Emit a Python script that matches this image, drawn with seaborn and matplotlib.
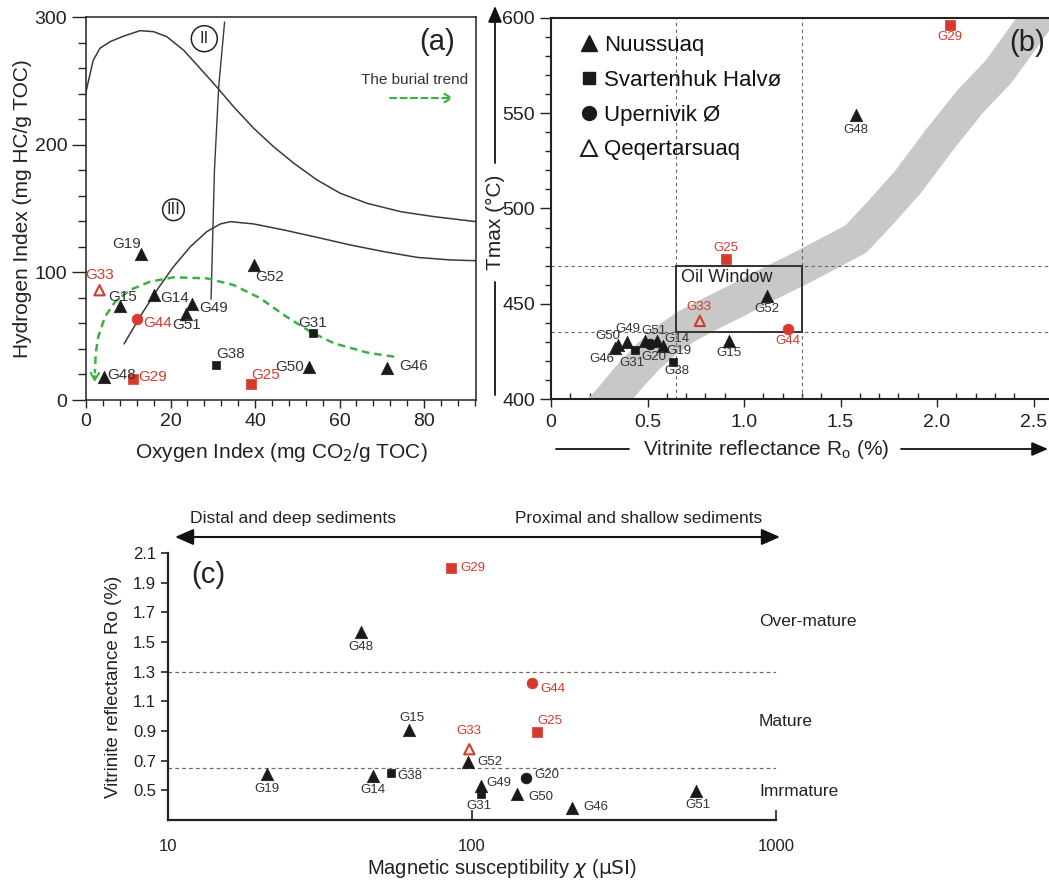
import numpy as np
import pandas as pd
import matplotlib
matplotlib.use("Agg")
import matplotlib.pyplot as plt
from matplotlib.lines import Line2D
from matplotlib.patches import Rectangle, FancyArrowPatch
from matplotlib.ticker import MultipleLocator, NullLocator, FixedLocator, FixedFormatter
import seaborn as sns

sns.set_style("ticks")
plt.rcParams["font.family"] = ["Liberation Sans", "DejaVu Sans"]

# ---------------- data ----------------
nuussuaq = ["G19", "G15", "G14", "G51", "G49", "G52", "G50", "G46", "G48"]
svartenhuk = ["G31", "G38", "G25", "G29"]
upernivik = ["G44", "G20"]
qeqertarsuaq = ["G33"]
red_samples = ["G33", "G44", "G25", "G29"]

# panel (a): Oxygen index vs Hydrogen index
a_samples = ["G19", "G33", "G15", "G14", "G44", "G51", "G49", "G52", "G31",
             "G38", "G50", "G46", "G25", "G29", "G48"]
a_oi = [13.1, 3.2, 8.1, 16.0, 12.0, 23.6, 25.1, 39.7, 53.8, 30.7, 52.8, 71.3, 39.0, 11.1, 4.3]
a_hi = [114, 86, 73.6, 82, 63.7, 67, 75, 106, 52.7, 27.7, 25.6, 25, 12.5, 16.7, 17.8]

# kerogen type boundaries
type2_oi = [0, 1.7, 3.3, 5.7, 8.9, 12.8, 16, 19.1, 23.1, 27, 31, 34.9, 39.7, 44.4, 49.2,
            54.7, 60.2, 66.6, 74.5, 82.4, 92.3]
type2_hi = [241.5, 266, 275.5, 280.7, 285, 289.3, 288.5, 284.6, 274, 259.8, 245, 229.8,
            212.8, 198.4, 185.4, 172.3, 161.9, 154, 147.5, 143.6, 139.7]
type3_oi = [9, 12.8, 16.8, 20.7, 24.7, 28.6, 31.8, 34.2, 39.7, 46.8, 54.7, 62.6, 70.5,
            78.4, 86.3, 92.3]
type3_hi = [43.9, 65.3, 86.2, 104.4, 120.1, 131.9, 137.9, 139.7, 137.9, 133.2, 127.4,
            121.4, 116.2, 111.7, 109.7, 109.1]
divider_oi = [29.6, 30.4, 31.4, 32.8]
divider_hi = [79, 180, 245, 296]
burial_oi = [72.9, 66.6, 58.7, 53.1, 46.8, 41.3, 34.9, 28.6, 20.7, 15.2, 10.4, 6.9, 4.5,
             2.9, 2.3, 2.1]
burial_hi = [33.9, 37.1, 44.4, 53.5, 66.6, 79.6, 90.1, 95.3, 96.1, 92.7, 86.2, 77, 65.3,
             49.6, 36.6, 20.9]

# panel (b): Ro vs Tmax
b_samples = ["G29", "G48", "G25", "G52", "G33", "G44", "G15", "G46", "G50", "G49",
             "G31", "G51", "G20", "G14", "G19", "G38"]
b_ro = [2.065, 1.582, 0.905, 1.119, 0.771, 1.226, 0.92, 0.33, 0.345, 0.396, 0.433,
        0.485, 0.513, 0.55, 0.578, 0.634]
b_tmax = [596.5, 549.2, 473.4, 454, 441, 437, 430.6, 427, 428.5, 429.8, 425.7, 430.6,
          428.9, 430.6, 428, 419.6]
band_ro = [0.22, 0.31, 0.40, 0.5, 0.6, 0.7, 0.8, 0.95, 1.1, 1.3, 1.45, 1.58, 1.7, 1.85,
           2.02, 2.17, 2.32, 2.52, 2.62]
band_tmax = [390, 400, 411, 422, 431, 438, 443.5, 451, 459, 469, 477, 484, 497, 514,
             537, 556, 572, 600, 614]
oil_ro = [0.65, 1.3]
oil_tmax = [435, 470]

# panel (c): magnetic susceptibility vs Ro
c_samples = ["G29", "G48", "G44", "G15", "G25", "G33", "G52", "G19", "G14", "G38",
             "G20", "G49", "G31", "G50", "G46", "G51"]
c_chi = [85.6, 43.2, 158, 62, 164, 98, 97, 21.2, 47.2, 54.2, 150.6, 106.8, 106.8, 141,
         214, 545]
c_ro = [2.0, 1.567, 1.222, 0.91, 0.892, 0.777, 0.688, 0.61, 0.598, 0.614, 0.581, 0.532,
        0.472, 0.472, 0.382, 0.498]
maturity_levels = [1.3, 0.65]

# ---------------- styling ----------------
RED = "#d63a2d"
BLK = "#1a1a1a"
LAB = "#333333"
GREEN = "#3cb043"

region_of = {}
for s in nuussuaq:
    region_of[s] = "Nuussuaq"
for s in svartenhuk:
    region_of[s] = "Svartenhuk Halvø"
for s in upernivik:
    region_of[s] = "Upernivik Ø"
for s in qeqertarsuaq:
    region_of[s] = "Qeqertarsuaq"

marker_of = {"Nuussuaq": "^", "Svartenhuk Halvø": "s", "Upernivik Ø": "o", "Qeqertarsuaq": "^"}
size_of = {"Nuussuaq": 80, "Svartenhuk Halvø": 30, "Upernivik Ø": 60, "Qeqertarsuaq": 55}


def draw_points(ax, samples, xs, ys, offsets, fs):
    df = pd.DataFrame({"sample": samples, "x": xs, "y": ys})
    df["region"] = df["sample"].map(region_of)
    df["red"] = df["sample"].isin(red_samples)
    for (reg, red), sub in df.groupby(["region", "red"]):
        col = RED if red else BLK
        sz = size_of[reg]
        if reg == "Svartenhuk Halvø" and red:
            sz = 42
        if reg == "Qeqertarsuaq":
            sns.scatterplot(data=sub, x="x", y="y", marker="^", s=sz, facecolor="none",
                            edgecolor=col, linewidth=1.5, ax=ax, legend=False, zorder=6)
        else:
            sns.scatterplot(data=sub, x="x", y="y", marker=marker_of[reg], s=sz,
                            color=col, edgecolor=col, linewidth=0.5, ax=ax,
                            legend=False, zorder=6)
    for s, x, y in zip(samples, xs, ys):
        dx, dy, ha = offsets[s]
        ax.annotate(s, (x, y), xytext=(dx, dy), textcoords="offset points",
                    ha=ha, va="center", fontsize=fs,
                    color=RED if s in red_samples else LAB, zorder=7)


W, H = 1049, 888
fig = plt.figure(figsize=(W / 100, H / 100), dpi=100)

# ====================== panel (a) ======================
ax_a = fig.add_axes([86 / W, 1 - 400 / H, 390 / W, 383 / H])
sns.lineplot(x=type2_oi, y=type2_hi, sort=False, estimator=None, color="#3a3a3a", lw=1.1, ax=ax_a)
sns.lineplot(x=type3_oi, y=type3_hi, sort=False, estimator=None, color="#3a3a3a", lw=1.1, ax=ax_a)
sns.lineplot(x=divider_oi, y=divider_hi, sort=False, estimator=None, color="#3a3a3a", lw=1.0, ax=ax_a)
sns.lineplot(x=burial_oi, y=burial_hi, sort=False, estimator=None, color=GREEN, lw=1.8,
             ls=(0, (3, 2)), ax=ax_a)
ax_a.annotate("", xy=(burial_oi[-1] - 0.05, 12), xytext=(burial_oi[-1], burial_hi[-1]),
              arrowprops=dict(arrowstyle="->,head_length=0.5,head_width=0.3", color=GREEN, lw=1.5))

a_off = {
    "G19": (0, 7.2, "right"), "G33": (0, 10.8, "center"), "G15": (2, 6.7, "center"),
    "G14": (4.8, -2.2, "left"), "G44": (4.8, -3.4, "left"), "G51": (0.5, -7.9, "center"),
    "G49": (5, -2.4, "left"), "G52": (1.2, -8.6, "left"), "G31": (-0.7, 6.7, "center"),
    "G38": (0.4, 7.4, "left"), "G50": (-3.4, 0.5, "right"), "G46": (8.4, 1.4, "left"),
    "G25": (0, 6.5, "left"), "G29": (4.1, 1.0, "left"), "G48": (1.9, 1.7, "left"),
}
draw_points(ax_a, a_samples, a_oi, a_hi, a_off, 11)

ax_a.text(28, 283, "II", ha="center", va="center", fontsize=12, color="#222",
          bbox=dict(boxstyle="circle,pad=0.33", fc="white", ec="#222", lw=1.1))
ax_a.text(20.7, 149, "III", ha="center", va="center", fontsize=12, color="#222",
          bbox=dict(boxstyle="circle,pad=0.2", fc="white", ec="#222", lw=1.1))
ax_a.text(0.9, 0.935, "(a)", transform=ax_a.transAxes, ha="center", va="center", fontsize=21, color="#222")
ax_a.text(77.7, 250.6, "The burial trend", ha="center", va="center", fontsize=11, color="#333")
ax_a.annotate("", xy=(87.6, 236.5), xytext=(71.3, 236.5),
              arrowprops=dict(arrowstyle="->,head_length=0.5,head_width=0.3", color=GREEN,
                              lw=1.5, ls=(0, (3, 2))))

ax_a.set_xlim(0, 92.3)
ax_a.set_ylim(0, 300)
ax_a.set_xticks([0, 20, 40, 60, 80])
ax_a.set_yticks([0, 100, 200, 300])
ax_a.xaxis.set_minor_locator(MultipleLocator(4))
ax_a.yaxis.set_minor_locator(MultipleLocator(20))
ax_a.tick_params(axis="x", which="major", direction="out", length=6, width=1, labelsize=14, colors="#222")
ax_a.tick_params(axis="x", which="minor", direction="out", length=4, width=1)
ax_a.tick_params(axis="y", which="major", direction="out", length=10, width=1, labelsize=14, colors="#222")
ax_a.tick_params(axis="y", which="minor", direction="out", length=5.5, width=1)
for sp in ax_a.spines.values():
    sp.set_linewidth(1.1)
    sp.set_color("#222")
ax_a.set_xlabel("Oxygen Index (mg CO$_2$/g TOC)", fontsize=15, color="#222", labelpad=8)
ax_a.set_ylabel("Hydrogen Index (mg HC/g TOC)", fontsize=15, color="#222", labelpad=2)

# ====================== panel (b) ======================
ax_b = fig.add_axes([551 / W, 1 - 399 / H, 498 / W, 381 / H])
sns.lineplot(x=band_ro, y=band_tmax, sort=False, estimator=None, color="#c8c8c8", lw=24.5,
             solid_capstyle="butt", solid_joinstyle="round", ax=ax_b, zorder=1)
ax_b.text(0.956, 0.934, "(b)", transform=ax_b.transAxes, ha="center", va="center",
          fontsize=21, color="#222", zorder=5)
for r in oil_ro:
    ax_b.axvline(r, color="#666", lw=0.8, ls=(0, (3, 3)), zorder=2)
for t in oil_tmax:
    ax_b.axhline(t, color="#666", lw=0.8, ls=(0, (3, 3)), zorder=2)
ax_b.add_patch(Rectangle((oil_ro[0], oil_tmax[0]), oil_ro[1] - oil_ro[0], oil_tmax[1] - oil_tmax[0],
                         fill=False, ec="#333", lw=1.4, zorder=3))
ax_b.text(oil_ro[0] + 0.025, oil_tmax[1] - 1.5, "Oil Window", ha="left", va="top", fontsize=13,
          color="#222", zorder=4)

b_off = {
    "G29": (0, -9.2, "center"), "G48": (0, -11.2, "center"), "G25": (0, 8.2, "center"),
    "G52": (0, -9.2, "center"), "G33": (-1, 10.2, "center"), "G44": (0, -8.7, "center"),
    "G15": (0, -8.7, "center"), "G50": (2, 6.5, "right"), "G46": (0, -8, "right"),
    "G49": (0.5, 9.7, "center"), "G31": (-2, -9.2, "center"), "G51": (6.5, 6.7, "center"),
    "G20": (2.7, -9.4, "center"), "G14": (5, 1.2, "left"), "G19": (2.5, -3.7, "left"),
    "G38": (2.7, -7, "center"),
}
draw_points(ax_b, b_samples, b_ro, b_tmax, b_off, 9.5)

handles = [
    Line2D([], [], ls="none", marker="^", ms=11, color=BLK),
    Line2D([], [], ls="none", marker="s", ms=9, color=BLK),
    Line2D([], [], ls="none", marker="o", ms=10, color=BLK),
    Line2D([], [], ls="none", marker="^", ms=11, mfc="none", mec=BLK, mew=1.4),
]
labels = ["Nuussuaq", "Svartenhuk Halvø", "Upernivik Ø", "Qeqertarsuaq"]
ax_b.legend(handles, labels, loc="upper left", bbox_to_anchor=(0.022, 0.99), frameon=False,
            fontsize=16, handletextpad=0.1, labelspacing=0.62, handlelength=1.2,
            borderaxespad=0.2, labelcolor="#111")

ax_b.set_xlim(0, 2.58)
ax_b.set_ylim(400, 600)
ax_b.set_xticks([0, 0.5, 1.0, 1.5, 2.0, 2.5])
ax_b.set_xticklabels(["0", "0.5", "1.0", "1.5", "2.0", "2.5"])
ax_b.set_yticks([400, 450, 500, 550, 600])
ax_b.xaxis.set_minor_locator(MultipleLocator(0.1))
ax_b.yaxis.set_minor_locator(MultipleLocator(10))
ax_b.tick_params(axis="x", which="major", direction="out", length=6, width=1, labelsize=14,
                 colors="#222", pad=5)
ax_b.tick_params(axis="x", which="minor", direction="in", length=4, width=1)
ax_b.tick_params(axis="y", which="major", direction="out", length=8, width=1, labelsize=14,
                 colors="#222")
ax_b.tick_params(axis="y", which="minor", direction="out", length=4.5, width=1)
ax_b.spines["right"].set_visible(False)
for k in ["left", "top", "bottom"]:
    ax_b.spines[k].set_linewidth(1.5)
    ax_b.spines[k].set_color("#222")
ax_b.set_xlabel("")
ax_b.set_ylabel("")


def fig_line(x0, y0, x1, y1, arrow=False):
    style = "-|>,head_length=0.7,head_width=0.3" if arrow else "-"
    fig.add_artist(FancyArrowPatch(
        (x0 / W, 1 - y0 / H), (x1 / W, 1 - y1 / H), transform=fig.transFigure,
        arrowstyle=style, mutation_scale=14, color="#111", lw=1.3, shrinkA=0, shrinkB=0))


fig_line(495, 395, 495, 282)
fig_line(495, 163, 495, 6, arrow=True)
fig.text(495 / W, 1 - 222 / H, "Tmax (°C)", rotation=90, ha="center", va="center", fontsize=15, color="#222")
fig_line(556, 449, 629, 449)
fig_line(901, 449, 1048, 449, arrow=True)
fig.text(766 / W, 1 - 449 / H, "Vitrinite reflectance R$\\mathregular{_o}$ (%)", ha="center",
         va="center", fontsize=15, color="#222")

# ====================== panel (c) ======================
ax_c = fig.add_axes([168 / W, 1 - 820 / H, 608 / W, 267 / H])
for lvl in maturity_levels:
    ax_c.axhline(lvl, color="#7a6560", lw=0.9, ls=(0, (3, 2.5)), zorder=1)
c_off = {
    "G29": (6.3, 0, "left"), "G48": (0, -10.8, "center"), "G44": (5.4, -4.3, "left"),
    "G15": (2, 8.5, "center"), "G25": (0, 8, "left"), "G33": (-0.5, 12.8, "center"),
    "G52": (7.1, 0, "left"), "G19": (0, -10.8, "center"), "G14": (0, -10.5, "center"),
    "G38": (4.8, -2, "left"), "G20": (6, 2.3, "left"), "G49": (4.3, 2, "left"),
    "G31": (-1.4, -8.5, "center"), "G50": (8, -1.7, "left"), "G46": (8, 0.5, "left"),
    "G51": (1.4, -10.5, "center"),
}
draw_points(ax_c, c_samples, c_chi, c_ro, c_off, 9.5)
ax_c.set_xscale("log")
ax_c.set_xlim(10, 1000)
ax_c.set_ylim(0.3, 2.1)
ax_c.xaxis.set_major_locator(FixedLocator([10, 100, 1000]))
ax_c.xaxis.set_major_formatter(FixedFormatter(["10", "100", "1000"]))
ax_c.xaxis.set_minor_locator(NullLocator())
ax_c.set_yticks([0.5, 0.7, 0.9, 1.1, 1.3, 1.5, 1.7, 1.9, 2.1])
ax_c.set_yticklabels(["0.5", "0.7", "0.9", "1.1", "1.3", "1.5", "1.7", "1.9", "2.1"])
ax_c.tick_params(axis="x", direction="in", length=7, width=1.2, labelsize=12, colors="#222", pad=14)
ax_c.tick_params(axis="y", direction="out", length=5, width=1.2, labelsize=12, colors="#222")
ax_c.spines["top"].set_visible(False)
ax_c.spines["right"].set_visible(False)
for k in ["left", "bottom"]:
    ax_c.spines[k].set_linewidth(1.6)
    ax_c.spines[k].set_color("#222")
ax_c.set_xlabel("")
ax_c.set_ylabel("Vitrinite reflectance Ro (%)", fontsize=13.5, color="#222", labelpad=8)
fig.text(502 / W, 1 - 868 / H, "Magnetic susceptibility $\\chi$ ($\\mathrm{\\mu SI}$)",
         ha="center", va="center", fontsize=14.5, color="#222")
ax_c.text(0.067, 0.918, "(c)", transform=ax_c.transAxes, ha="center", va="center", fontsize=21, color="#222")
for lab, yv in [("Over-mature", 1.641), ("Mature", 0.967), ("Imrmature", 0.495)]:
    ax_c.text(880, yv, lab, ha="left", va="center", fontsize=12.5, color="#222", clip_on=False)

fig.add_artist(FancyArrowPatch(
    (175 / W, 1 - 537 / H), (780 / W, 1 - 537 / H), transform=fig.transFigure,
    arrowstyle="<|-|>,head_length=0.8,head_width=0.35", mutation_scale=14, color="#111",
    lw=1.5, shrinkA=0, shrinkB=0))
fig.text(190 / W, 1 - 518 / H, "Distal and deep sediments", ha="left", va="center",
         fontsize=12.6, color="#222")
fig.text(762 / W, 1 - 518 / H, "Proximal and shallow sediments", ha="right", va="center",
         fontsize=12.4, color="#222")

fig.savefig("out.png", dpi=100)
